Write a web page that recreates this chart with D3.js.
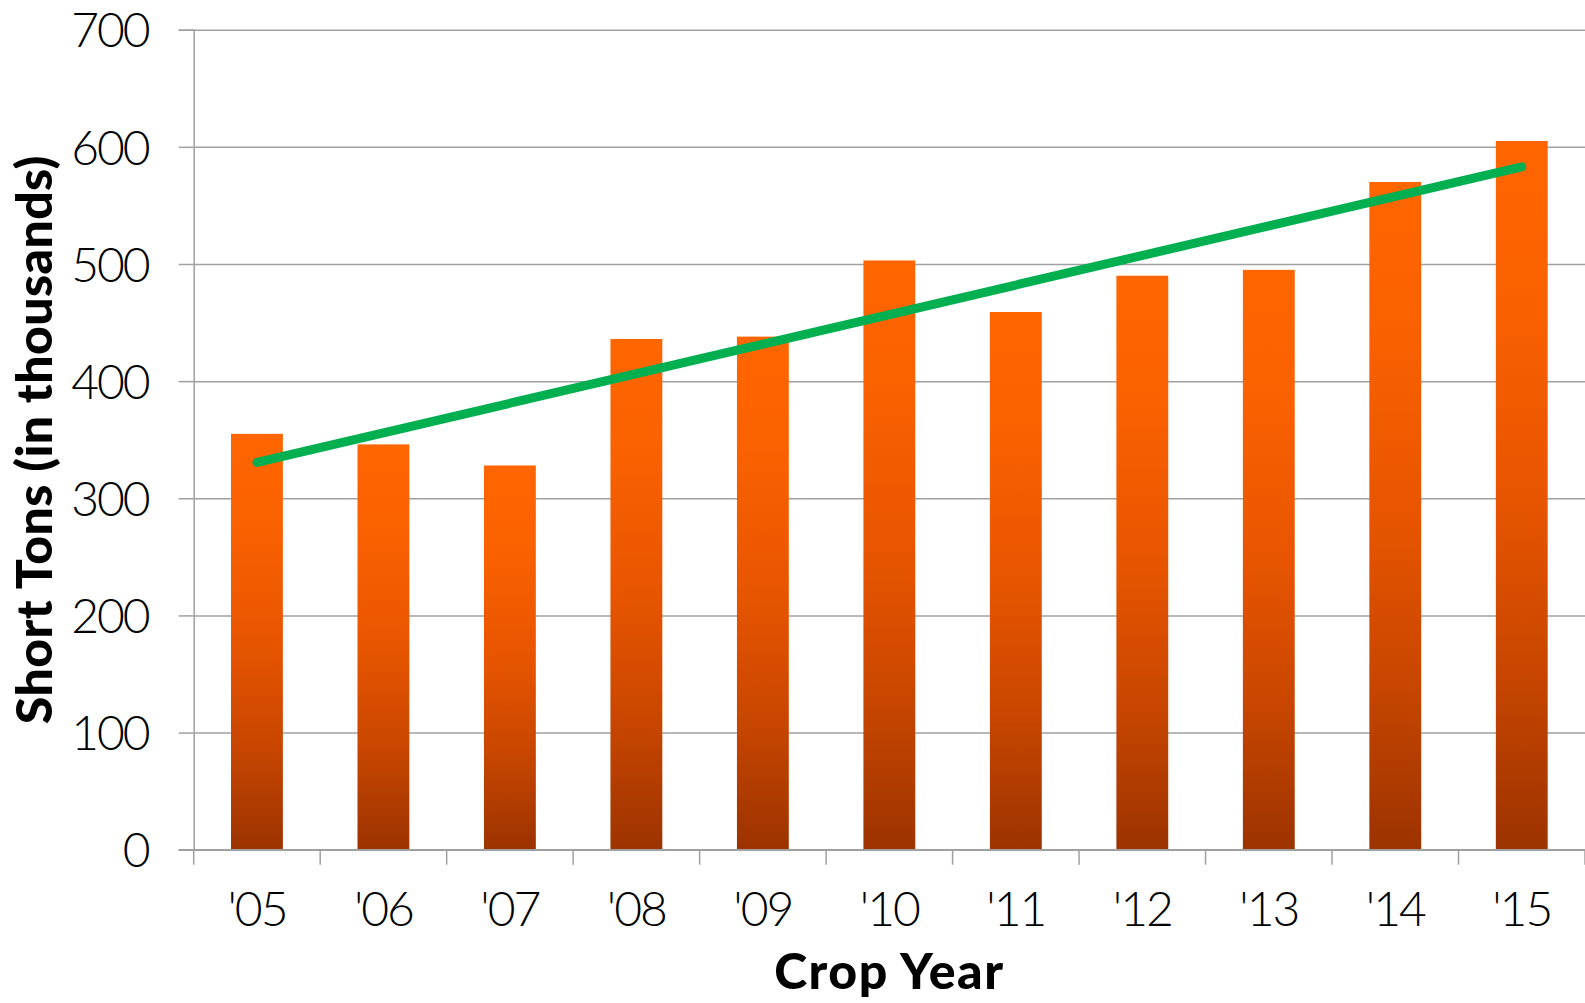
<!DOCTYPE html>
<html>
<head>
<meta charset="utf-8">
<script src="https://cdn.jsdelivr.net/npm/d3@7"></script>
<style>
  html, body { margin: 0; padding: 0; background: #ffffff; }
  svg { display: block; }
  .tick text { font-family: Lato, "Open Sans", sans-serif; font-weight: 300; fill: #000; }
  .axis-title { font-family: Lato, "Open Sans", sans-serif; font-weight: 900; fill: #000; }
</style>
</head>
<body>
<svg id="chart" width="1585" height="1003"></svg>
<script>
// Crop years and production (thousands of short tons)
const years = ["'05", "'06", "'07", "'08", "'09", "'10", "'11", "'12", "'13", "'14", "'15"];
const tons = [355, 346, 328, 436, 438, 503, 459, 490, 495, 570, 605];
// Linear trend line, value at the first and last crop year
const trendEnds = [330.6, 583.0];
const yTicks = [0, 100, 200, 300, 400, 500, 600, 700];

const W = 1585, H = 1003;
const margin = { left: 193.7, right: 0, top: 29.7, bottom: H - 849.7 };
const svg = d3.select("#chart");

const x = d3.scaleBand()
  .domain(years)
  .range([margin.left, W - margin.right])
  .paddingInner(0.59)
  .paddingOuter(0.295);

const y = d3.scaleLinear()
  .domain([0, 700])
  .range([H - margin.bottom, margin.top]);

// Category boundaries for the x tick marks
const xEdge = d3.scaleLinear()
  .domain([0, years.length])
  .range([margin.left, W - margin.right]);

// Bar fill gradient
const defs = svg.append("defs");
const grad = defs.append("linearGradient")
  .attr("id", "barFill")
  .attr("x1", 0).attr("y1", 0).attr("x2", 0).attr("y2", 1);
[[0, "#ff6600"], [0.2, "#fb6200"], [0.5, "#e85500"], [0.75, "#c84600"], [1, "#9c3300"]]
  .forEach(([o, c]) => grad.append("stop").attr("offset", o).attr("stop-color", c));

// Horizontal gridlines
svg.append("g")
  .attr("transform", `translate(${margin.left},0)`)
  .call(d3.axisLeft(y).tickValues(yTicks).tickSize(-(W - margin.left - margin.right)).tickFormat(""))
  .call(g => g.select(".domain").remove())
  .call(g => g.selectAll("line").attr("stroke", "#a0a0a0").attr("stroke-width", 1.5));

// Y axis with outward tick marks and labels
svg.append("g")
  .attr("transform", `translate(${margin.left},0)`)
  .call(d3.axisLeft(y).tickValues(yTicks).tickSize(15).tickPadding(30).tickFormat(d3.format("d")))
  .call(g => g.select(".domain").attr("stroke", "#a0a0a0").attr("stroke-width", 1.5))
  .call(g => g.selectAll("line").attr("stroke", "#a0a0a0").attr("stroke-width", 1.5))
  .call(g => g.selectAll("text")
    .style("font-size", "48px")
    .attr("letter-spacing", "-2")
    .attr("dy", "0.36em"));

// Bars
svg.append("g")
  .selectAll("rect")
  .data(tons)
  .join("rect")
  .attr("x", (d, i) => x(years[i]))
  .attr("y", d => y(d))
  .attr("width", x.bandwidth())
  .attr("height", d => y(0) - y(d))
  .attr("fill", "url(#barFill)");

// X axis line and boundary ticks
const xAxisG = svg.append("g").attr("transform", `translate(0,${y(0)})`);
xAxisG.append("line")
  .attr("x1", margin.left - 15).attr("x2", W - margin.right)
  .attr("stroke", "#a0a0a0").attr("stroke-width", 1.5);
xAxisG.selectAll("line.edge")
  .data(d3.range(years.length + 1))
  .join("line")
  .attr("class", "edge")
  .attr("x1", d => xEdge(d)).attr("x2", d => xEdge(d))
  .attr("y1", 0).attr("y2", 15)
  .attr("stroke", "#a0a0a0").attr("stroke-width", 1.5);

// X tick labels at category centres
svg.append("g")
  .attr("transform", `translate(0,${y(0)})`)
  .call(d3.axisBottom(x).tickSize(0).tickPadding(42))
  .call(g => g.select(".domain").remove())
  .call(g => g.selectAll("text")
    .style("font-size", "48px")
    .attr("letter-spacing", "-2"));

// Trend line
const line = d3.line()
  .x(d => x(d[0]) + x.bandwidth() / 2)
  .y(d => y(d[1]));
svg.append("path")
  .datum([[years[0], trendEnds[0]], [years[years.length - 1], trendEnds[1]]])
  .attr("d", line)
  .attr("fill", "none")
  .attr("stroke", "#00b050")
  .attr("stroke-width", 9)
  .attr("stroke-linecap", "round");

// Axis titles
svg.append("text")
  .attr("class", "axis-title")
  .attr("x", (margin.left + W - margin.right) / 2)
  .attr("y", 989)
  .attr("text-anchor", "middle")
  .attr("letter-spacing", "1.5")
  .style("font-size", "50px")
  .text("Crop Year");

svg.append("text")
  .attr("class", "axis-title")
  .attr("transform", `translate(52,${(y(0) + y(700)) / 2}) rotate(-90)`)
  .attr("text-anchor", "middle")
  .attr("letter-spacing", "0.4")
  .style("font-size", "50px")
  .text("Short Tons (in thousands)");
</script>
</body>
</html>
